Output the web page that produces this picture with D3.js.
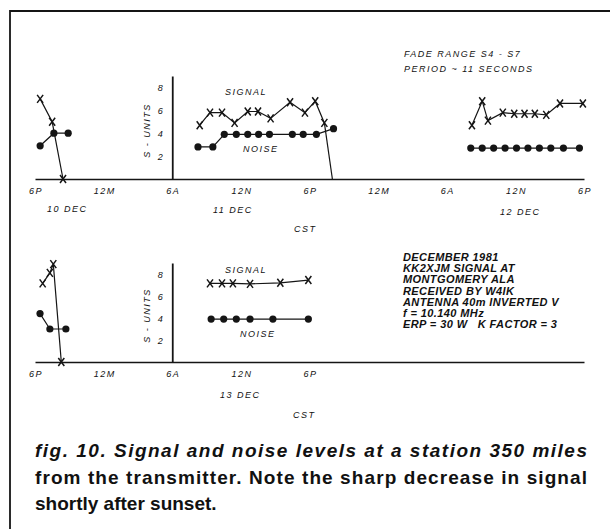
<!DOCTYPE html>
<html>
<head>
<meta charset="utf-8">
<script src="https://cdn.jsdelivr.net/npm/d3@7"></script>
<style>
  body { margin: 0; background: #fff; }
  svg { display: block; }
  .lab { font-family: "Liberation Sans", Arial, sans-serif; font-style: italic; font-size: 9px; letter-spacing: 1.5px; fill: #111; }
  .info { font-family: "Liberation Sans", Arial, sans-serif; font-style: italic; font-weight: bold; font-size: 11px; letter-spacing: 0.4px; fill: #111; white-space: pre; }
  .cap { font-family: "Liberation Sans", Arial, sans-serif; font-weight: bold; font-size: 19px; fill: #111; }
</style>
</head>
<body>
<svg id="fig" width="610" height="529"></svg>
<script>
// hours counted from the first 6P of each panel
const tickHours = [0, 6, 12, 18, 24, 30, 36, 42, 48];
const tickLabels = ["6P", "12M", "6A", "12N", "6P", "12M", "6A", "12N", "6P"];
const sTicks = [2, 4, 6, 8];

// top panel: 10-12 Dec
const sig10Hours = [0.45, 1.5, 2.45];
const sig10 = [7, 5, 0];
const noise10Hours = [0.45, 1.65, 2.9];
const noise10 = [2.9, 4, 4];
const sig11Hours = [14.4, 15.3, 16.35, 17.45, 18.6, 19.5, 20.6, 22.3, 23.6, 24.5, 25.3];
const sig11 = [4.7, 5.8, 5.8, 4.9, 5.9, 5.9, 5.3, 6.7, 5.8, 6.8, 4.9];
const sig11Drop = [26.0, 0];
const noise11Hours = [14.25, 15.55, 16.55, 17.6, 18.6, 19.55, 20.5, 22.5, 23.45, 24.6, 26.1];
const noise11 = [2.8, 2.8, 3.9, 3.9, 3.9, 3.9, 3.9, 3.9, 3.9, 3.9, 4.4];
const sig12Hours = [38.2, 39.1, 39.6, 40.9, 41.9, 42.8, 43.7, 44.7, 45.9, 47.9];
const sig12 = [4.7, 6.8, 5.1, 5.8, 5.7, 5.7, 5.7, 5.6, 6.6, 6.6];
const noise12Hours = [38.1, 39.1, 40.1, 41.1, 42.1, 43.1, 44.1, 45.1, 46.2, 47.6];
const noise12 = [2.7, 2.7, 2.7, 2.7, 2.7, 2.7, 2.7, 2.7, 2.7, 2.7];

// bottom panel: 12-13 Dec
const sig12pHours = [0.67, 1.3, 1.6, 2.3];
const sig12p = [7.15, 8.1, 8.9, 0];
const noise12pHours = [0.44, 1.3, 2.7];
const noise12p = [4.4, 3.0, 3.0];
const sig13Hours = [15.3, 16.35, 17.3, 18.8, 21.45, 23.9];
const sig13 = [7.15, 7.15, 7.15, 7.1, 7.2, 7.45];
const noise13Hours = [15.4, 16.5, 17.6, 18.8, 20.8, 23.9];
const noise13 = [3.9, 3.9, 3.9, 3.9, 3.9, 3.9];

const infoLines = ["DECEMBER 1981", "KK2XJM SIGNAL AT", "MONTGOMERY ALA", "RECEIVED BY W4IK",
  "ANTENNA 40m INVERTED V", "f = 10.140 MHz", "ERP = 30 W   K FACTOR = 3"];
const captionLines = ["fig. 10. Signal and noise levels at a station 350 miles",
  "from the transmitter. Note the sharp decrease in signal",
  "shortly after sunset."];

const svg = d3.select("#fig");
const ink = "#151515";

// frame
svg.append("path").attr("d", "M10,529V11H610").attr("fill", "none")
  .attr("stroke", ink).attr("stroke-width", 1.8);

const x = d3.scaleLinear().domain([0, 48]).range([35, 584]);

function pts(h, v) { return d3.zip(h, v).map(([hh, s]) => ({ h: hh, s: s })); }

function panel(y, ticks) {
  const g = svg.append("g");
  const xa = g.append("g").attr("transform", `translate(0,${y(0)})`)
    .call(d3.axisBottom(x).tickValues(ticks).tickFormat((d, i) => tickLabels[i])
      .tickSize(0).tickSizeOuter(0).tickPadding(9));
  xa.select(".domain").attr("stroke", ink).attr("stroke-width", 1.4);
  xa.selectAll("text").attr("class", "lab").attr("dy", "0.71em").attr("dx", "0.5px");

  const ya = g.append("g").attr("transform", `translate(${x(12)},0)`)
    .call(d3.axisLeft(y).tickValues(sTicks).tickSize(0).tickSizeOuter(0).tickPadding(8));
  ya.select(".domain").attr("stroke", ink).attr("stroke-width", 1.8);
  ya.selectAll("text").attr("class", "lab").attr("dy", "0.35em");

  g.append("text").attr("class", "lab")
    .attr("transform", `translate(${x(12) - 22},${(y(0) + y(9)) / 2 + 3}) rotate(-90)`)
    .attr("text-anchor", "middle").text("S - UNITS");
  return g;
}

function series(g, y, data, kind) {
  const line = d3.line().x(d => x(d.h)).y(d => y(d.s));
  g.append("path").datum(data).attr("d", line).attr("fill", "none")
    .attr("stroke", ink).attr("stroke-width", 1.2);
  if (kind === "dot") {
    g.selectAll(null).data(data).join("circle")
      .attr("cx", d => x(d.h)).attr("cy", d => y(d.s)).attr("r", 3.6).attr("fill", ink);
  } else {
    g.selectAll(null).data(data).join("path")
      .attr("transform", d => `translate(${x(d.h)},${y(d.s)})`)
      .attr("d", "M-3,-4L3,4M-3,4L3,-4").attr("stroke", ink).attr("stroke-width", 1.5);
  }
}

function label(txt, px, py, anchor) {
  svg.append("text").attr("class", "lab").attr("x", px).attr("y", py)
    .attr("text-anchor", anchor || "start").text(txt);
}

// top panel
const yTop = d3.scaleLinear().domain([0, 9]).range([179, 76]);
const gTop = panel(yTop, tickHours);
series(gTop, yTop, pts(sig10Hours, sig10), "x");
series(gTop, yTop, pts(noise10Hours, noise10), "dot");
const s11 = pts(sig11Hours, sig11);
gTop.append("path").datum([s11[s11.length - 1], { h: sig11Drop[0], s: sig11Drop[1] }])
  .attr("d", d3.line().x(d => x(d.h)).y(d => yTop(d.s)))
  .attr("fill", "none").attr("stroke", ink).attr("stroke-width", 1.2);
series(gTop, yTop, s11, "x");
series(gTop, yTop, pts(noise11Hours, noise11), "dot");
series(gTop, yTop, pts(sig12Hours, sig12), "x");
series(gTop, yTop, pts(noise12Hours, noise12), "dot");

label("SIGNAL", 225, 95);
label("NOISE", 243, 152);
label("10 DEC", 47, 212);
label("11 DEC", 213, 213);
label("12 DEC", 500, 215);
label("CST", 294, 232);
label("FADE RANGE  S4 - S7", 404, 57);
label("PERIOD ~ 11 SECONDS", 404, 72);

// bottom panel
const yBot = d3.scaleLinear().domain([0, 9]).range([362, 263]);
const gBot = panel(yBot, tickHours.slice(0, 5));
series(gBot, yBot, pts(sig12pHours, sig12p), "x");
series(gBot, yBot, pts(noise12pHours, noise12p), "dot");
series(gBot, yBot, pts(sig13Hours, sig13), "x");
series(gBot, yBot, pts(noise13Hours, noise13), "dot");

label("SIGNAL", 225, 273);
label("NOISE", 240, 337);
label("13 DEC", 220, 398);
label("CST", 293, 418);

svg.selectAll(null).data(infoLines).join("text").attr("class", "info")
  .attr("x", 403).attr("y", (d, i) => 261 + i * 11.2).text(d => d);

svg.selectAll(null).data(captionLines).join("text").attr("class", "cap")
  .attr("x", 35).attr("y", (d, i) => 457 + i * 26.5)
  .attr("font-style", (d, i) => i === 0 ? "italic" : null)
  .attr("textLength", (d, i) => i < 2 ? 552 : null)
  .attr("lengthAdjust", "spacing")
  .text(d => d);
</script>
</body>
</html>
